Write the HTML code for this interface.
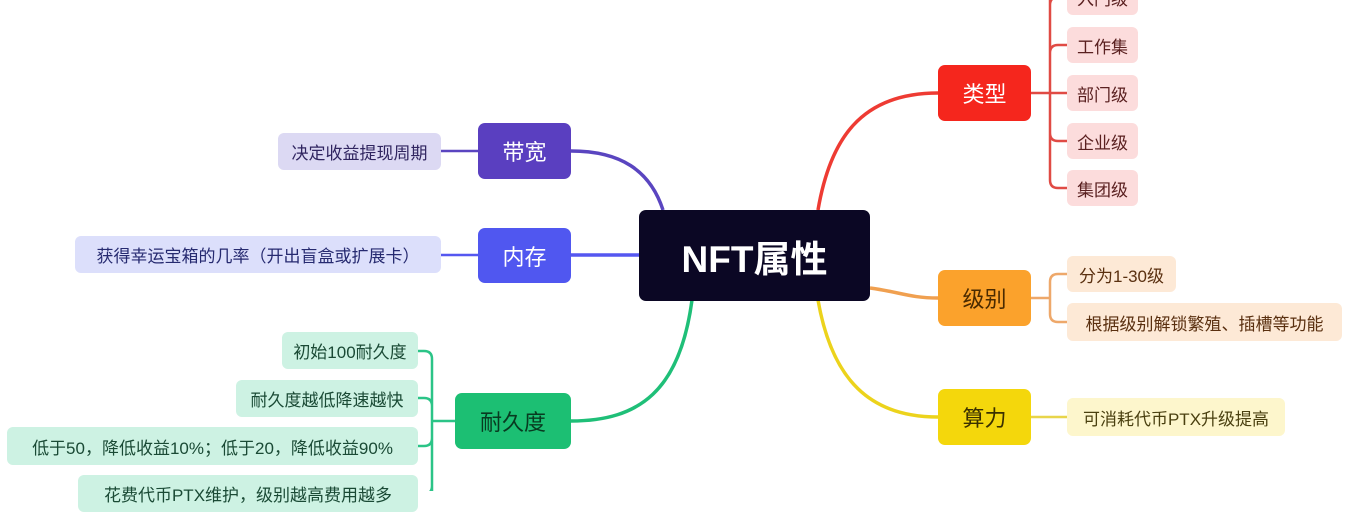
<!DOCTYPE html>
<html><head><meta charset="utf-8"><style>
body{margin:0;width:1353px;height:491px;overflow:hidden;background:#fff;position:relative;font-family:"Liberation Sans","Noto Sans CJK SC",sans-serif}
.b{position:absolute;display:flex;align-items:center;justify-content:center;border-radius:7px;white-space:nowrap}
.m{font-size:22px}
.c{font-size:17px;border-radius:6px}
svg{position:absolute;left:0;top:0}
</style></head><body>
<svg width="1353" height="491" fill="none" stroke-width="3.5">
<path d="M818 210 C830 140 860 93 938 93" stroke="#ee3b33"/>
<path d="M870 288 C900 292 910 298 938 298" stroke="#f0a050"/>
<path d="M818 300 C832 380 870 417 938 417" stroke="#ecd31c"/>
<path d="M663 210 C650 170 620 151 571 151" stroke="#5a45c0"/>
<path d="M639 255 L571 255" stroke="#5557f0"/>
<path d="M692 300 C680 390 640 421 571 421" stroke="#1fbf78"/>
<g stroke-width="2.5">
<path d="M1031 93 L1067 93 M1050 -10 L1050 180 Q1050 188 1058 188 L1067 188 M1050 53 Q1050 45 1058 45 L1067 45 M1050 133 Q1050 141 1058 141 L1067 141 M1050 5 Q1050 -3 1058 -3 L1067 -3" stroke="#e04a44"/>
<path d="M1031 298 L1050 298 M1050 282 Q1050 274 1058 274 L1067 274 M1050 282 L1050 314 Q1050 322 1058 322 L1067 322" stroke="#eea86a"/>
<path d="M1031 417 L1067 417" stroke="#e8d54a"/>
<path d="M478 151 L441 151" stroke="#5a45c0"/>
<path d="M478 255 L441 255" stroke="#5557f0"/>
<path d="M455 421 L432 421 M432 359 L432 500 M432 359 Q432 351 424 351 L418 351 M432 406 Q432 398 424 398 L418 398 M432 438 Q432 446 424 446 L418 446 M432 486 Q432 494 424 494 L418 494" stroke="#2bc487"/>
</g>
</svg>
<div class="b" style="left:639px;top:210px;width:231px;height:91px;background:#0b0724;color:#fff;font-size:37px;font-weight:bold">NFT属性</div>
<div class="b m" style="left:938px;top:65px;width:93px;height:56px;background:#f5261d;color:#fff">类型</div>
<div class="b m" style="left:938px;top:270px;width:93px;height:56px;background:#fba22c;color:#4a2a00">级别</div>
<div class="b m" style="left:938px;top:389px;width:93px;height:56px;background:#f4d70c;color:#3a3000">算力</div>
<div class="b m" style="left:478px;top:123px;width:93px;height:56px;background:#5a3fc0;color:#fff">带宽</div>
<div class="b m" style="left:478px;top:228px;width:93px;height:55px;background:#5057f0;color:#fff">内存</div>
<div class="b m" style="left:455px;top:393px;width:116px;height:56px;background:#1cbf73;color:#083a20">耐久度</div>
<div class="b c" style="left:1067px;top:-21px;width:71px;height:36px;background:#fcdcdc;color:#5a2020">入门级</div>
<div class="b c" style="left:1067px;top:27px;width:71px;height:36px;background:#fcdcdc;color:#5a2020">工作集</div>
<div class="b c" style="left:1067px;top:75px;width:71px;height:36px;background:#fcdcdc;color:#5a2020">部门级</div>
<div class="b c" style="left:1067px;top:123px;width:71px;height:36px;background:#fcdcdc;color:#5a2020">企业级</div>
<div class="b c" style="left:1067px;top:170px;width:71px;height:36px;background:#fcdcdc;color:#5a2020">集团级</div>
<div class="b c" style="left:1067px;top:256px;width:109px;height:36px;background:#fde9d6;color:#5a3010">分为1-30级</div>
<div class="b c" style="left:1067px;top:303px;width:275px;height:38px;background:#fde9d6;color:#5a3010">根据级别解锁繁殖、插槽等功能</div>
<div class="b c" style="left:1067px;top:398px;width:218px;height:38px;background:#fdf6cc;color:#4a4010">可消耗代币PTX升级提高</div>
<div class="b c" style="left:278px;top:133px;width:163px;height:37px;background:#dcd9f3;color:#302560">决定收益提现周期</div>
<div class="b c" style="left:75px;top:236px;width:366px;height:37px;background:#dcdffb;color:#262a70">获得幸运宝箱的几率（开出盲盒或扩展卡）</div>
<div class="b c" style="left:282px;top:332px;width:136px;height:37px;background:#cdf2e3;color:#1a4a35">初始100耐久度</div>
<div class="b c" style="left:236px;top:380px;width:182px;height:37px;background:#cdf2e3;color:#1a4a35">耐久度越低降速越快</div>
<div class="b c" style="left:7px;top:427px;width:411px;height:38px;background:#cdf2e3;color:#1a4a35">低于50，降低收益10%；低于20，降低收益90%</div>
<div class="b c" style="left:78px;top:475px;width:340px;height:37px;background:#cdf2e3;color:#1a4a35">花费代币PTX维护，级别越高费用越多</div>
</body></html>
